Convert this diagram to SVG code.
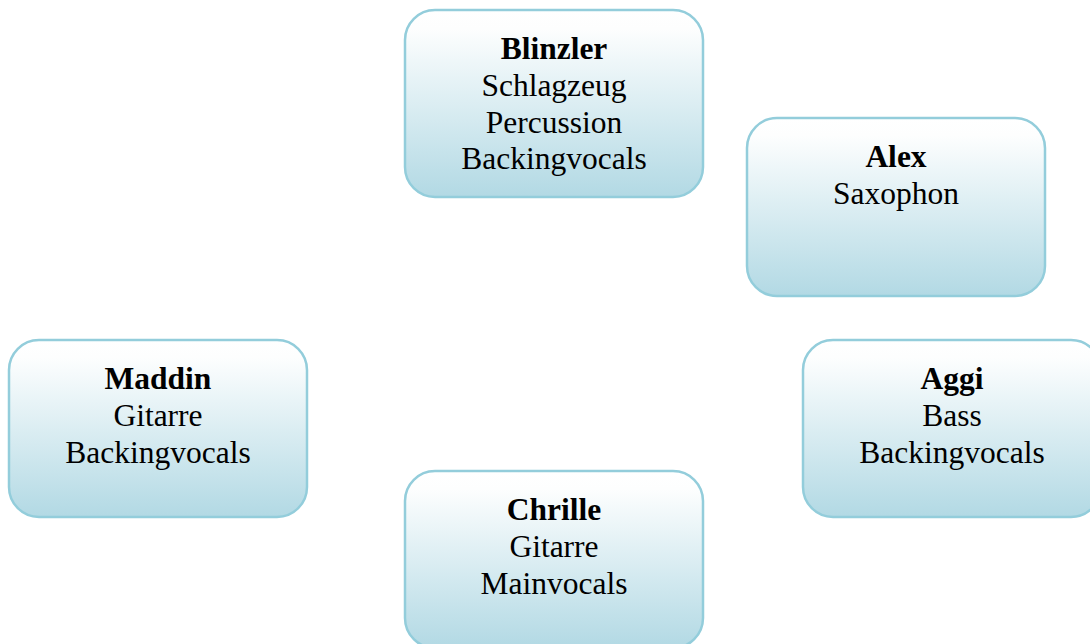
<svg xmlns="http://www.w3.org/2000/svg" width="1090" height="644" viewBox="0 0 1090 644">
<defs>
<linearGradient id="g" x1="0" y1="0" x2="0" y2="1">
<stop offset="0" stop-color="#ffffff"/>
<stop offset="0.1" stop-color="#fdfefe"/>
<stop offset="1" stop-color="#b2d9e4"/>
</linearGradient>
</defs>
<style>
.box{fill:url(#g);stroke:#93cddb;stroke-width:2.5}
text{font-family:"Liberation Serif","Times New Roman",serif;font-size:31.5px;fill:#000;text-anchor:middle}
.b{font-weight:bold}
</style>
<rect width="1090" height="644" fill="#ffffff"/>
<g id="connectors"></g>
<g id="blinzler">
<rect class="box" x="405" y="10" width="298" height="187" rx="30"/>
<text x="554" y="59" class="b">Blinzler</text>
<text x="554" y="96">Schlagzeug</text>
<text x="554" y="132.5">Percussion</text>
<text x="554" y="169">Backingvocals</text>
</g>
<g id="alex">
<rect class="box" x="747" y="118" width="298" height="178" rx="30"/>
<text x="896" y="167" class="b">Alex</text>
<text x="896" y="204">Saxophon</text>
</g>
<g id="maddin">
<rect class="box" x="9" y="340" width="298" height="177" rx="30"/>
<text x="158" y="389" class="b">Maddin</text>
<text x="158" y="426">Gitarre</text>
<text x="158" y="462.5">Backingvocals</text>
</g>
<g id="aggi">
<rect class="box" x="803" y="340" width="298" height="177" rx="30"/>
<text x="952" y="389" class="b">Aggi</text>
<text x="952" y="426">Bass</text>
<text x="952" y="462.5">Backingvocals</text>
</g>
<g id="chrille">
<rect class="box" x="405" y="471" width="298" height="177" rx="30"/>
<text x="554" y="520" class="b">Chrille</text>
<text x="554" y="557">Gitarre</text>
<text x="554" y="593.5">Mainvocals</text>
</g>
</svg>
